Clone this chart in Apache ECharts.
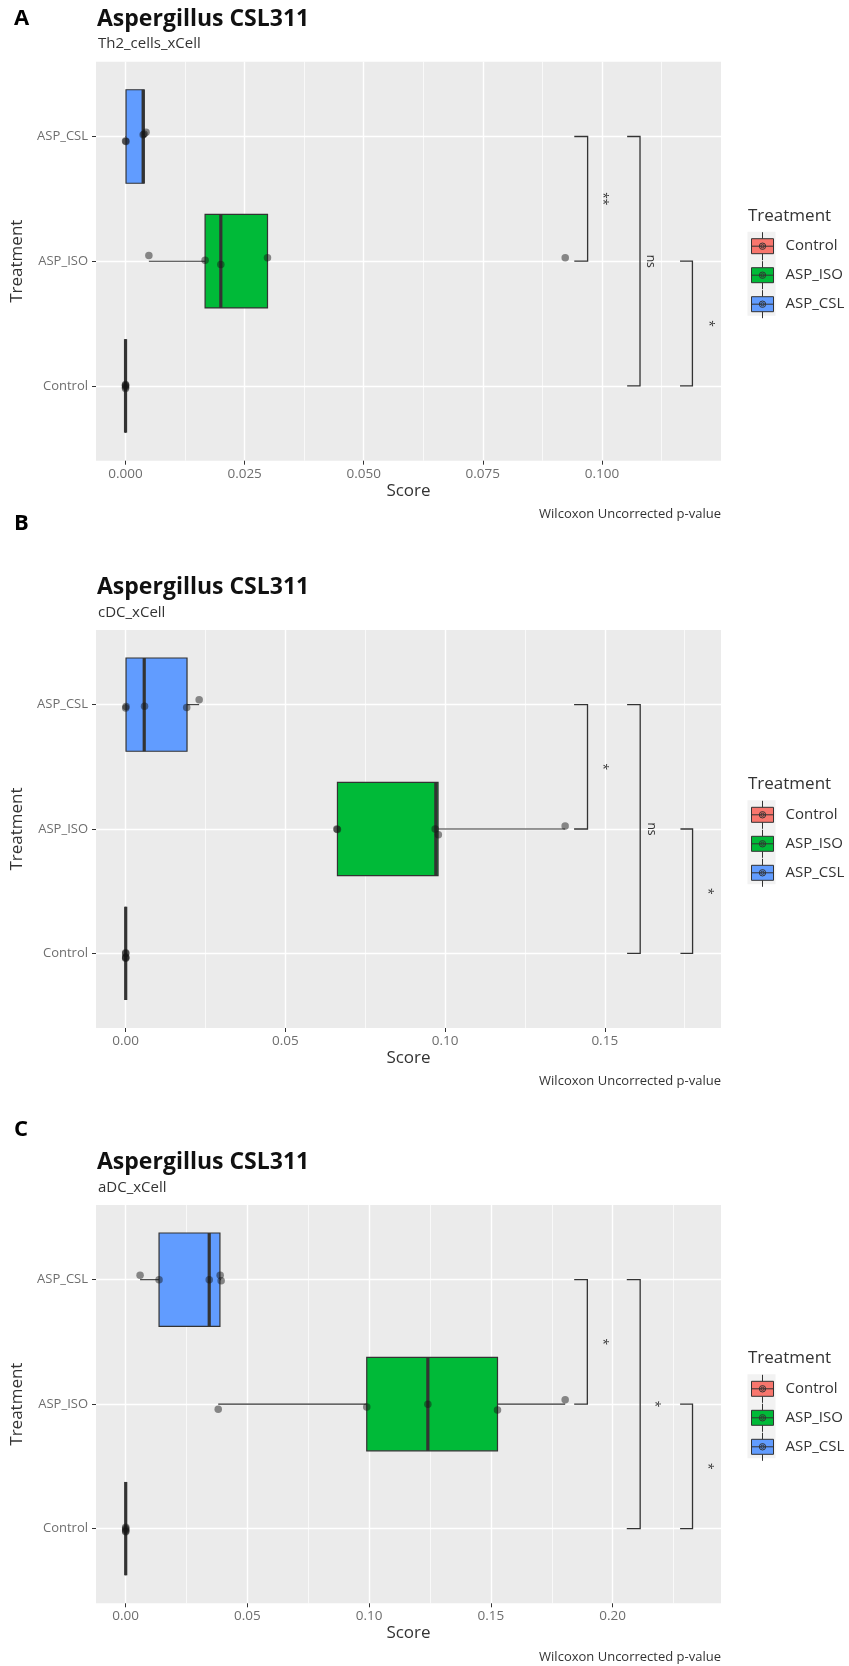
<!DOCTYPE html>
<html><head><meta charset="utf-8">
<script src="https://cdn.jsdelivr.net/npm/echarts@6/dist/echarts.min.js"></script>
<style>html,body{margin:0;padding:0;background:#fff}#c{width:849px;height:1666px}</style>
</head><body><div id="c"></div>
<script>
// ---------------- data ----------------
const categories = ['Control', 'ASP_ISO', 'ASP_CSL'];
const panelLetters = ['A', 'B', 'C'];
const panelTitle = 'Aspergillus CSL311';
const panelSubtitles = ['Th2_cells_xCell', 'cDC_xCell', 'aDC_xCell'];
const captionText = 'Wilcoxon Uncorrected p-value';
const xAxisTitle = 'Score';
const yAxisTitle = 'Treatment';

// x tick values (major / minor) per panel
const xTicksA = [0, 0.025, 0.05, 0.075, 0.1];
const xMinorA = [0.0125, 0.0375, 0.0625, 0.0875, 0.1125];
const xTicksB = [0, 0.05, 0.1, 0.15];
const xMinorB = [0.025, 0.075, 0.125, 0.175];
const xTicksC = [0, 0.05, 0.1, 0.15, 0.2];
const xMinorC = [0.025, 0.075, 0.125, 0.175, 0.225];

// box statistics per category [lower whisker, Q1, median, Q3, upper whisker]
const boxA = [[0, 0, 0, 0, 0], [0.0049, 0.0167, 0.0200, 0.0298, 0.0298], [0.0000, 0.0001, 0.0037, 0.0039, 0.0043]];
const boxB = [[0, 0, 0, 0, 0], [0.0661, 0.0663, 0.0971, 0.0978, 0.1376], [0.0000, 0.0001, 0.0058, 0.0192, 0.0230]];
const boxC = [[0, 0, 0, 0, 0], [0.0380, 0.0990, 0.1241, 0.1527, 0.1805], [0.0059, 0.0137, 0.0343, 0.0387, 0.0392]];

// individual sample scores per category, and their vertical jitter (category units)
const pointsA = [[0, 0, 0, 0, 0], [0.0049, 0.0167, 0.0200, 0.0298, 0.0923], [0.0000, 0.0001, 0.0037, 0.0039, 0.0043]];
const jitterA = [[-0.01, 0.005, -0.02, 0.012, 0], [0.046, 0.008, -0.027, 0.027, 0.027], [-0.035, -0.04, 0.015, 0.02, 0.035]];
const pointsB = [[0, 0, 0, 0, 0], [0.0661, 0.0663, 0.0969, 0.0979, 0.1376], [0.0000, 0.0001, 0.0059, 0.0191, 0.0230]];
const jitterB = [[0, -0.04, -0.03, 0.005, -0.035], [0, -0.004, 0, -0.046, 0.024], [-0.027, -0.016, -0.014, -0.024, 0.04]];
const pointsC = [[0, 0, 0, 0, 0], [0.0380, 0.0990, 0.1241, 0.1527, 0.1805], [0.0059, 0.0137, 0.0343, 0.0388, 0.0392]];
const jitterC = [[-0.02, 0.01, -0.01, 0, -0.025], [-0.04, -0.022, 0, -0.046, 0.035], [0.035, 0, 0, 0.035, -0.008]];

// significance brackets: [category 1, category 2, tip x, bar x, label x]
const bracketsA = [[2, 1, 0.0942, 0.0970, 0.1001], [2, 0, 0.1053, 0.1080, 0.1101], [1, 0, 0.1164, 0.1190, 0.1223]];
const bracketLabelsA = ['**', 'ns', '*'];
const bracketsB = [[2, 1, 0.1404, 0.1446, 0.1492], [2, 0, 0.1570, 0.1611, 0.1645], [1, 0, 0.1737, 0.1775, 0.1823]];
const bracketLabelsB = ['*', 'ns', '*'];
const bracketsC = [[2, 1, 0.1842, 0.1896, 0.1957], [2, 0, 0.2058, 0.2113, 0.2170], [1, 0, 0.2277, 0.2328, 0.2391]];
const bracketLabelsC = ['*', '*', '*'];

// ---------------- style / layout ----------------
const FONT = 'Open Sans';
const groupColors = ['#F8766D', '#00BA38', '#619CFF'];
const panels = [
  { box: boxA, pts: pointsA, jit: jitterA, br: bracketsA, brl: bracketLabelsA, ticks: xTicksA, minor: xMinorA, dec: 3,
    top: 61.7, height: 399, xmin: -0.0062, xmax: 0.125, letterY: 19, titleY: 19, subY: 44, capY: 514.3, legTitleY: 215.7, legTop: 231.7 },
  { box: boxB, pts: pointsB, jit: jitterB, br: bracketsB, brl: bracketLabelsB, ticks: xTicksB, minor: xMinorB, dec: 2,
    top: 630, height: 398, xmin: -0.0093, xmax: 0.1864, letterY: 524, titleY: 587.3, subY: 612.3, capY: 1081.6, legTitleY: 784, legTop: 800.3 },
  { box: boxC, pts: pointsC, jit: jitterC, br: bracketsC, brl: bracketLabelsC, ticks: xTicksC, minor: xMinorC, dec: 2,
    top: 1205, height: 398.3, xmin: -0.0122, xmax: 0.2445, letterY: 1130, titleY: 1162.3, subY: 1187.3, capY: 1657, legTitleY: 1358.3, legTop: 1374.3 }
];
const GRID_LEFT = 96, GRID_WIDTH = 625;

function renderBox(params, api) {
  const y = api.value(0);
  const lo = api.value(1), q1 = api.value(2), med = api.value(3), q3 = api.value(4), hi = api.value(5);
  const half = api.size([0, 0.375])[1];
  const c = api.coord([med, y]);
  const pLo = api.coord([lo, y]), pQ1 = api.coord([q1, y]), pQ3 = api.coord([q3, y]), pHi = api.coord([hi, y]);
  const ln = { stroke: '#333333', lineWidth: 1.1 };
  return { type: 'group', children: [
    { type: 'line', shape: { x1: pLo[0], y1: c[1], x2: pQ1[0], y2: c[1] }, style: ln },
    { type: 'line', shape: { x1: pQ3[0], y1: c[1], x2: pHi[0], y2: c[1] }, style: ln },
    { type: 'rect', shape: { x: pQ1[0], y: c[1] - half, width: pQ3[0] - pQ1[0], height: 2 * half },
      style: { fill: api.visual('color'), stroke: '#333333', lineWidth: 1.2 } },
    { type: 'line', shape: { x1: c[0], y1: c[1] - half, x2: c[0], y2: c[1] + half }, style: { stroke: '#333333', lineWidth: 3.2 } }
  ] };
}

function makeBracketRenderer(labels) {
  return function (params, api) {
    const y1 = api.value(0), y2 = api.value(1), xt = api.value(2), xb = api.value(3), xl = api.value(4);
    const a = api.coord([xt, y1]), b = api.coord([xb, y1]), c = api.coord([xb, y2]), d = api.coord([xt, y2]);
    const t = api.coord([xl, (y1 + y2) / 2]);
    return { type: 'group', children: [
      { type: 'polyline', shape: { points: [a, b, c, d] }, style: { stroke: '#333333', lineWidth: 1.3, fill: 'none' } },
      { type: 'text', x: t[0], y: t[1], rotation: -Math.PI / 2,
        style: { text: labels[params.dataIndex], fill: '#333333', fontSize: 12, fontFamily: FONT, align: 'center', verticalAlign: 'middle' } }
    ] };
  };
}

const keyIcon = 'path://M0,6.5L22,6.5L22,21.5L0,21.5Z M11,0L11,6.5 M11,21.5L11,28 M0,14L22,14 M14.2,14A3.2,3.2,0,1,1,7.8,14A3.2,3.2,0,1,1,14.2,14Z M12.6,14A1.6,1.6,0,1,1,9.4,14A1.6,1.6,0,1,1,12.6,14Z';

const grid = [], xAxis = [], yAxis = [], series = [], legend = [], title = [], graphicEls = [];

panels.forEach((P, p) => {
  grid.push({ left: GRID_LEFT, top: P.top, width: GRID_WIDTH, height: P.height, show: true,
    backgroundColor: '#EBEBEB', borderWidth: 0, containLabel: false, outerBoundsMode: 'none' });
  xAxis.push({
    type: 'value', gridIndex: p, min: P.xmin, max: P.xmax, position: 'bottom',
    axisLine: { show: false, onZero: false },
    axisTick: { show: true, length: 4, lineStyle: { color: '#333333', width: 1 }, customValues: P.ticks },
    axisLabel: { show: true, customValues: P.ticks, color: '#6e6e6e', fontSize: 13.5, fontFamily: FONT, margin: 6,
      formatter: (v) => Number(v).toFixed(P.dec) },
    splitLine: { show: true, lineStyle: { color: '#FFFFFF', width: 1.4 } },
    name: xAxisTitle, nameLocation: 'middle', nameGap: 21.5, nameMoveOverlap: false,
    nameTextStyle: { color: '#333333', fontSize: 17, fontFamily: FONT }
  });
  xAxis.push({
    type: 'value', gridIndex: p, min: P.xmin, max: P.xmax, position: 'bottom',
    axisLine: { show: false, onZero: false },
    axisTick: { show: false, customValues: P.minor },
    axisLabel: { show: false, customValues: P.minor },
    splitLine: { show: true, lineStyle: { color: '#FFFFFF', width: 0.7 } }
  });
  yAxis.push({
    type: 'value', gridIndex: p, min: -0.6, max: 2.6, position: 'left',
    axisLine: { show: false, onZero: false },
    axisTick: { show: true, length: 4, lineStyle: { color: '#333333', width: 1 }, customValues: [0, 1, 2] },
    axisLabel: { show: true, customValues: [0, 1, 2], color: '#6e6e6e', fontSize: 13, fontFamily: FONT, margin: 8,
      formatter: (v) => categories[Math.round(v)] },
    splitLine: { show: true, lineStyle: { color: '#FFFFFF', width: 1.4 } },
    name: yAxisTitle, nameLocation: 'middle', nameGap: 70.5, nameRotate: 90, nameMoveOverlap: false,
    nameTextStyle: { color: '#333333', fontSize: 17, fontFamily: FONT }
  });

  categories.forEach((cat, g) => {
    series.push({
      type: 'custom', name: cat, xAxisIndex: 2 * p, yAxisIndex: p, z: 2,
      itemStyle: { color: groupColors[g], borderColor: '#333333' },
      encode: { x: [1, 2, 3, 4, 5], y: 0 },
      data: [[g].concat(P.box[g])],
      renderItem: renderBox
    });
  });

  const pts = [];
  categories.forEach((cat, g) => {
    P.pts[g].forEach((v, i) => pts.push([v, g + P.jit[g][i]]));
  });
  series.push({
    type: 'scatter', name: 'samples', xAxisIndex: 2 * p, yAxisIndex: p, z: 5,
    symbol: 'circle', symbolSize: 7.5, itemStyle: { color: 'rgba(20,20,20,0.6)' },
    data: pts, silent: true
  });

  series.push({
    type: 'custom', name: 'signif', xAxisIndex: 2 * p, yAxisIndex: p, z: 6,
    encode: { x: [2, 3, 4], y: [0, 1] },
    data: P.br, renderItem: makeBracketRenderer(P.brl)
  });

  legend.push({
    orient: 'vertical', left: 751, top: P.legTop, padding: 0, itemGap: 0, itemWidth: 22, itemHeight: 28,
    icon: keyIcon, data: categories.slice(), selectedMode: false,
    itemStyle: { borderColor: '#333333', borderWidth: 1 },
    textStyle: { fontSize: 15, color: '#333333', fontFamily: FONT, padding: [0, 0, 0, 7] }
  });

  title.push({ text: panelLetters[p], left: 14, top: P.letterY - 13, padding: 0,
    textStyle: { fontSize: 22, fontWeight: 'bold', color: '#000', fontFamily: FONT, lineHeight: 26 } });
  title.push({ text: panelTitle, left: 97, top: P.titleY - 13, padding: 0,
    textStyle: { fontSize: 23, fontWeight: 'bold', color: '#111', fontFamily: FONT, lineHeight: 26 } });
  title.push({ text: panelSubtitles[p], left: 98, top: P.subY - 9, padding: 0,
    textStyle: { fontSize: 15, fontWeight: 'normal', color: '#333', fontFamily: FONT, lineHeight: 18 } });
  title.push({ text: captionText, right: 849 - (GRID_LEFT + GRID_WIDTH), top: P.capY - 8, padding: 0,
    textStyle: { fontSize: 13, fontWeight: 'normal', color: '#333', fontFamily: FONT, lineHeight: 16 } });
  title.push({ text: yAxisTitle, left: 748, top: P.legTitleY - 10, padding: 0,
    textStyle: { fontSize: 17, fontWeight: 'normal', color: '#333', fontFamily: FONT, lineHeight: 20 } });

  graphicEls.push({ type: 'rect', left: 747.5, top: P.legTop, z: 0,
    shape: { width: 28, height: 84 }, style: { fill: '#F2F2F2' } });
});

const chart = echarts.init(document.getElementById('c'), null, { renderer: 'canvas' });
chart.setOption({
  animation: false,
  backgroundColor: '#FFFFFF',
  textStyle: { fontFamily: FONT },
  title, grid, xAxis, yAxis, series, legend,
  graphic: { elements: graphicEls }
});
</script></body></html>
